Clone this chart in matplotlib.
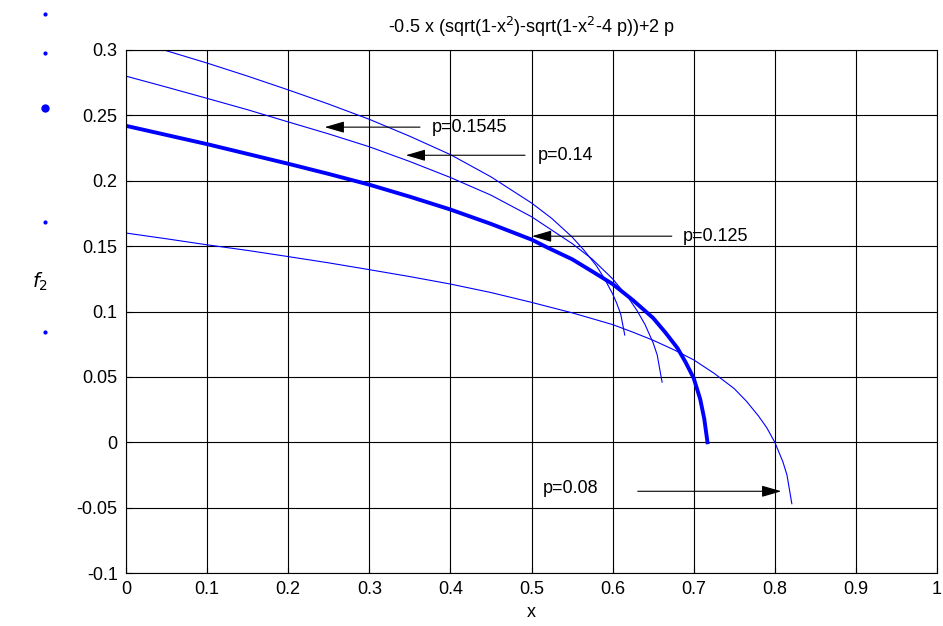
import matplotlib
matplotlib.use("Agg")
import matplotlib.pyplot as plt
from matplotlib.lines import Line2D

plt.rcParams['font.family'] = ['Liberation Sans', 'DejaVu Sans']

# ---- data ----
x_p008 = [0.0, 0.05, 0.1, 0.15, 0.2, 0.25, 0.3, 0.35, 0.4, 0.45, 0.5, 0.55, 0.6, 0.625,
          0.65, 0.675, 0.7, 0.725, 0.75, 0.765, 0.78, 0.79, 0.8, 0.81, 0.815, 0.821]
y_p008 = [0.160, 0.1556, 0.151, 0.1467, 0.142, 0.1372, 0.132, 0.1267, 0.121, 0.1145, 0.107, 0.099,
          0.090, 0.0842, 0.078, 0.0709, 0.063, 0.0528, 0.041, 0.0314, 0.020, 0.0112, 0.000, -0.015,
          -0.025, -0.047]

x_p0125 = [0.0, 0.05, 0.1, 0.15, 0.2, 0.25, 0.3, 0.35, 0.4, 0.45, 0.5, 0.52, 0.55, 0.575,
           0.6, 0.625, 0.65, 0.665, 0.68, 0.69, 0.7, 0.708, 0.713, 0.717]
y_p0125 = [0.242, 0.235, 0.228, 0.2205, 0.213, 0.2052, 0.197, 0.1878, 0.178, 0.167, 0.155, 0.1488,
           0.140, 0.1306, 0.121, 0.1087, 0.095, 0.084, 0.072, 0.0612, 0.049, 0.033, 0.018, 0.000]

x_p014 = [0.0, 0.05, 0.1, 0.15, 0.2, 0.25, 0.3, 0.35, 0.4, 0.45, 0.5, 0.55, 0.575, 0.6,
          0.62, 0.63, 0.64, 0.65, 0.655, 0.661]
y_p014 = [0.280, 0.2716, 0.263, 0.2543, 0.245, 0.2358, 0.226, 0.2147, 0.2025, 0.189, 0.1725, 0.152,
          0.140, 0.125, 0.110, 0.1008, 0.090, 0.076, 0.0668, 0.046]

x_p01545 = [0.0, 0.05, 0.1, 0.15, 0.2, 0.25, 0.3, 0.35, 0.4, 0.45, 0.5, 0.525, 0.55, 0.565,
            0.58, 0.59, 0.6, 0.605, 0.61, 0.615]
y_p01545 = [0.309, 0.2994, 0.290, 0.280, 0.2695, 0.2586, 0.247, 0.234, 0.220, 0.203, 0.183, 0.1712,
            0.157, 0.1467, 0.135, 0.1251, 0.1135, 0.1064, 0.098, 0.082]

labels = ['p=0.1545', 'p=0.14', 'p=0.125', 'p=0.08']
arrow_tip = [(0.245, 0.241), (0.345, 0.2195), (0.5006, 0.1576), (0.808, -0.0375)]
arrow_tail = [(0.3625, 0.241), (0.492, 0.2195), (0.673, 0.1576), (0.631, -0.0375)]
label_pos = [(0.377, 0.241), (0.508, 0.2195), (0.687, 0.1576), (0.514, -0.035)]

xticks = [0, 0.1, 0.2, 0.3, 0.4, 0.5, 0.6, 0.7, 0.8, 0.9, 1]
xticklabels = ['0', '0.1', '0.2', '0.3', '0.4', '0.5', '0.6', '0.7', '0.8', '0.9', '1']
yticks = [-0.1, -0.05, 0, 0.05, 0.1, 0.15, 0.2, 0.25, 0.3]
yticklabels = ['-0.1', '-0.05', '0', '0.05', '0.1', '0.15', '0.2', '0.25', '0.3']

title = '-0.5 x (sqrt(1-x$^2$)-sqrt(1-x$^2$-4 p))+2 p'

# stray dots at the left edge (figure fraction)
dots_x = [0.0477, 0.0477, 0.0477, 0.0477, 0.0477]
dots_y = [1 - 14/626, 1 - 53/626, 1 - 108/626, 1 - 222/626, 1 - 332/626]
dots_size = [3, 3, 6, 3, 3]

FS = 13

# ---- figure ----
fig = plt.figure(figsize=(9.43, 6.26), dpi=100)
ax = fig.add_axes([126/943, 53/626, (937-126)/943, (573-50)/626])

blue = (0, 0, 1)
ax.plot(x_p008, y_p008, color=blue, lw=0.8)
ax.plot(x_p014, y_p014, color=blue, lw=0.8)
ax.plot(x_p01545, y_p01545, color=blue, lw=0.8)
ax.plot(x_p0125, y_p0125, color=blue, lw=2.8, solid_joinstyle='round')

for lab, tip, tail, pos in zip(labels, arrow_tip, arrow_tail, label_pos):
    ax.annotate('', xy=tip, xytext=tail,
                arrowprops=dict(arrowstyle='-|>,head_length=1.2,head_width=0.35',
                                color='k', lw=0.8, shrinkA=0, shrinkB=0))
    ax.text(pos[0], pos[1], lab, fontsize=FS, ha='left', va='center', color='k')

ax.set_xlim(0, 1)
ax.set_ylim(-0.1, 0.3)
ax.set_xticks(xticks)
ax.set_xticklabels(xticklabels)
ax.set_yticks(yticks)
ax.set_yticklabels(yticklabels)
ax.tick_params(direction='in', length=4, labelsize=FS, colors='k', pad=6)
ax.grid(True, color='k', lw=0.8, ls='-')
for s in ax.spines.values():
    s.set_color('k')
    s.set_linewidth(0.8)

ax.set_title(title, fontsize=FS, pad=12)
ax.set_xlabel('x', fontsize=FS, labelpad=4)
ax.set_ylabel('$f_2$', fontsize=14, rotation=0, va='center', ha='center')
ax.yaxis.set_label_coords((40 - 126) / 811, (573 - 282) / 523)

for dx, dy, ds in zip(dots_x, dots_y, dots_size):
    fig.add_artist(Line2D([dx], [dy], marker='o', markersize=ds, color=blue,
                          markeredgewidth=0, transform=fig.transFigure))

fig.savefig('out.png', dpi=100)
